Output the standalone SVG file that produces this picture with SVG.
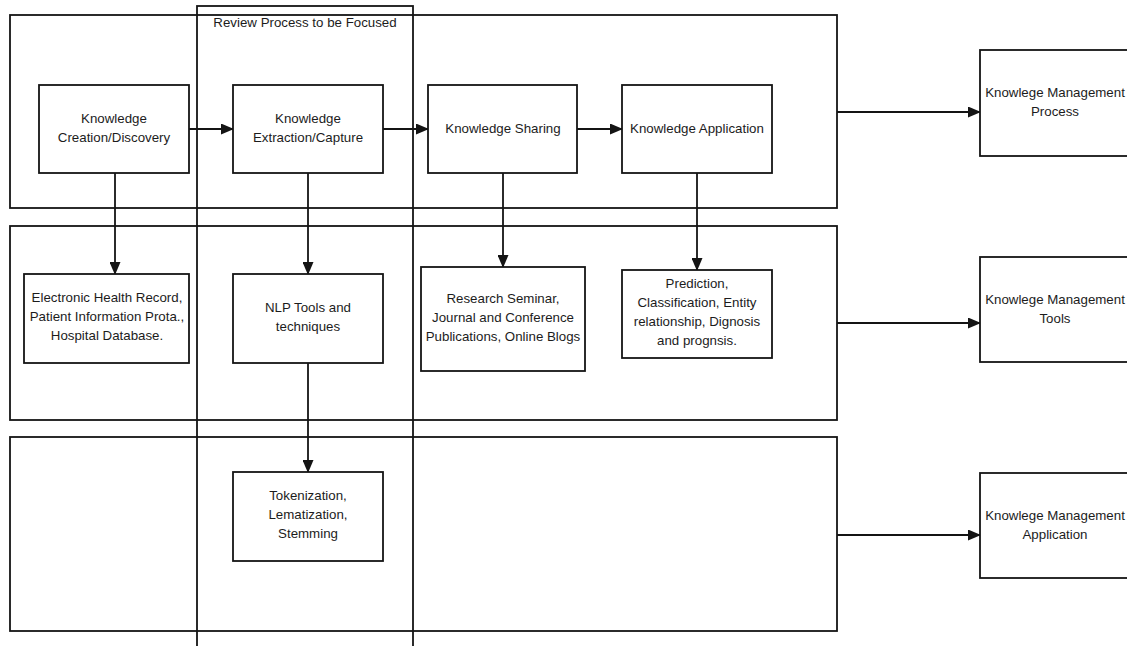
<svg xmlns="http://www.w3.org/2000/svg" width="1127" height="646" viewBox="0 0 1127 646">
<style>
.band{fill:none;stroke:#141414;stroke-width:1.8}
.box{fill:#fff;stroke:#141414;stroke-width:1.8}
.t{font-family:"Liberation Sans",Arial,sans-serif;font-size:13.3px;fill:#1c1c1c;text-anchor:middle}
.c{fill:none;stroke:#141414;stroke-width:1.8}
</style>
<defs>
<marker id="ah" markerUnits="userSpaceOnUse" markerWidth="13" markerHeight="11" refX="12" refY="5.5" orient="auto">
<path d="M0,0 L13,5.5 L0,11 z" fill="#141414"/>
</marker>
</defs>
<rect width="1127" height="646" fill="#fff"/>
<g id="bands">
<rect id="band-process" class="band" x="10" y="15" width="827" height="193"/>
<rect id="band-tools" class="band" x="10" y="226" width="827" height="194"/>
<rect id="band-application" class="band" x="10" y="437" width="827" height="194"/>
</g>
<g id="review">
<rect class="band" x="197" y="6" width="216" height="660"/>
<text class="t" x="305" y="26.5">Review Process to be Focused</text>
</g>
<g id="connectors">
<line class="c" x1="189" y1="129" x2="233" y2="129" marker-end="url(#ah)"/>
<line class="c" x1="383" y1="129" x2="428" y2="129" marker-end="url(#ah)"/>
<line class="c" x1="577" y1="129" x2="622" y2="129" marker-end="url(#ah)"/>
<line class="c" x1="115" y1="173" x2="115" y2="274" marker-end="url(#ah)"/>
<line class="c" x1="308" y1="173" x2="308" y2="274" marker-end="url(#ah)"/>
<line class="c" x1="503" y1="173" x2="503" y2="267" marker-end="url(#ah)"/>
<line class="c" x1="697" y1="173" x2="697" y2="270" marker-end="url(#ah)"/>
<line class="c" x1="308" y1="363" x2="308" y2="472" marker-end="url(#ah)"/>
<line class="c" x1="837" y1="112" x2="980" y2="112" marker-end="url(#ah)"/>
<line class="c" x1="837" y1="323" x2="980" y2="323" marker-end="url(#ah)"/>
<line class="c" x1="837" y1="535" x2="980" y2="535" marker-end="url(#ah)"/>
</g>
<g id="n-creation">
<rect class="box" x="39" y="85" width="150" height="88"/>
<text class="t" x="114" y="122.5">Knowledge</text>
<text class="t" x="114" y="141.5">Creation/Discovery</text>
</g>
<g id="n-extraction">
<rect class="box" x="233" y="85" width="150" height="88"/>
<text class="t" x="308" y="122.5">Knowledge</text>
<text class="t" x="308" y="141.5">Extraction/Capture</text>
</g>
<g id="n-sharing">
<rect class="box" x="428" y="85" width="149" height="88"/>
<text class="t" x="503" y="132.5">Knowledge Sharing</text>
</g>
<g id="n-application">
<rect class="box" x="622" y="85" width="150" height="88"/>
<text class="t" x="697" y="132.5">Knowledge Application</text>
</g>
<g id="n-ehr">
<rect class="box" x="24" y="274" width="165" height="89"/>
<text class="t" x="107" y="302">Electronic Health Record,</text>
<text class="t" x="107" y="321">Patient Information Prota.,</text>
<text class="t" x="107" y="340">Hospital Database.</text>
</g>
<g id="n-nlp">
<rect class="box" x="233" y="274" width="150" height="89"/>
<text class="t" x="308" y="312">NLP Tools and</text>
<text class="t" x="308" y="331">techniques</text>
</g>
<g id="n-research">
<rect class="box" x="421" y="267" width="164" height="104"/>
<text class="t" x="503" y="302.5">Research Seminar,</text>
<text class="t" x="503" y="321.5">Journal and Conference</text>
<text class="t" x="503" y="340.5">Publications, Online Blogs</text>
</g>
<g id="n-prediction">
<rect class="box" x="622" y="270" width="150" height="88"/>
<text class="t" x="697" y="288">Prediction,</text>
<text class="t" x="697" y="307">Classification, Entity</text>
<text class="t" x="697" y="326">relationship, Dignosis</text>
<text class="t" x="697" y="345">and prognsis.</text>
</g>
<g id="n-tokenization">
<rect class="box" x="233" y="472" width="150" height="89"/>
<text class="t" x="308" y="499.5">Tokenization,</text>
<text class="t" x="308" y="518.5">Lematization,</text>
<text class="t" x="308" y="537.5">Stemming</text>
</g>
<g id="n-km-process">
<rect class="box" x="980" y="50" width="160" height="106"/>
<text class="t" x="1055" y="97">Knowlege Management</text>
<text class="t" x="1055" y="116">Process</text>
</g>
<g id="n-km-tools">
<rect class="box" x="980" y="257" width="160" height="105"/>
<text class="t" x="1055" y="304">Knowlege Management</text>
<text class="t" x="1055" y="323">Tools</text>
</g>
<g id="n-km-application">
<rect class="box" x="980" y="473" width="160" height="105"/>
<text class="t" x="1055" y="519.5">Knowlege Management</text>
<text class="t" x="1055" y="538.5">Application</text>
</g>
</svg>
